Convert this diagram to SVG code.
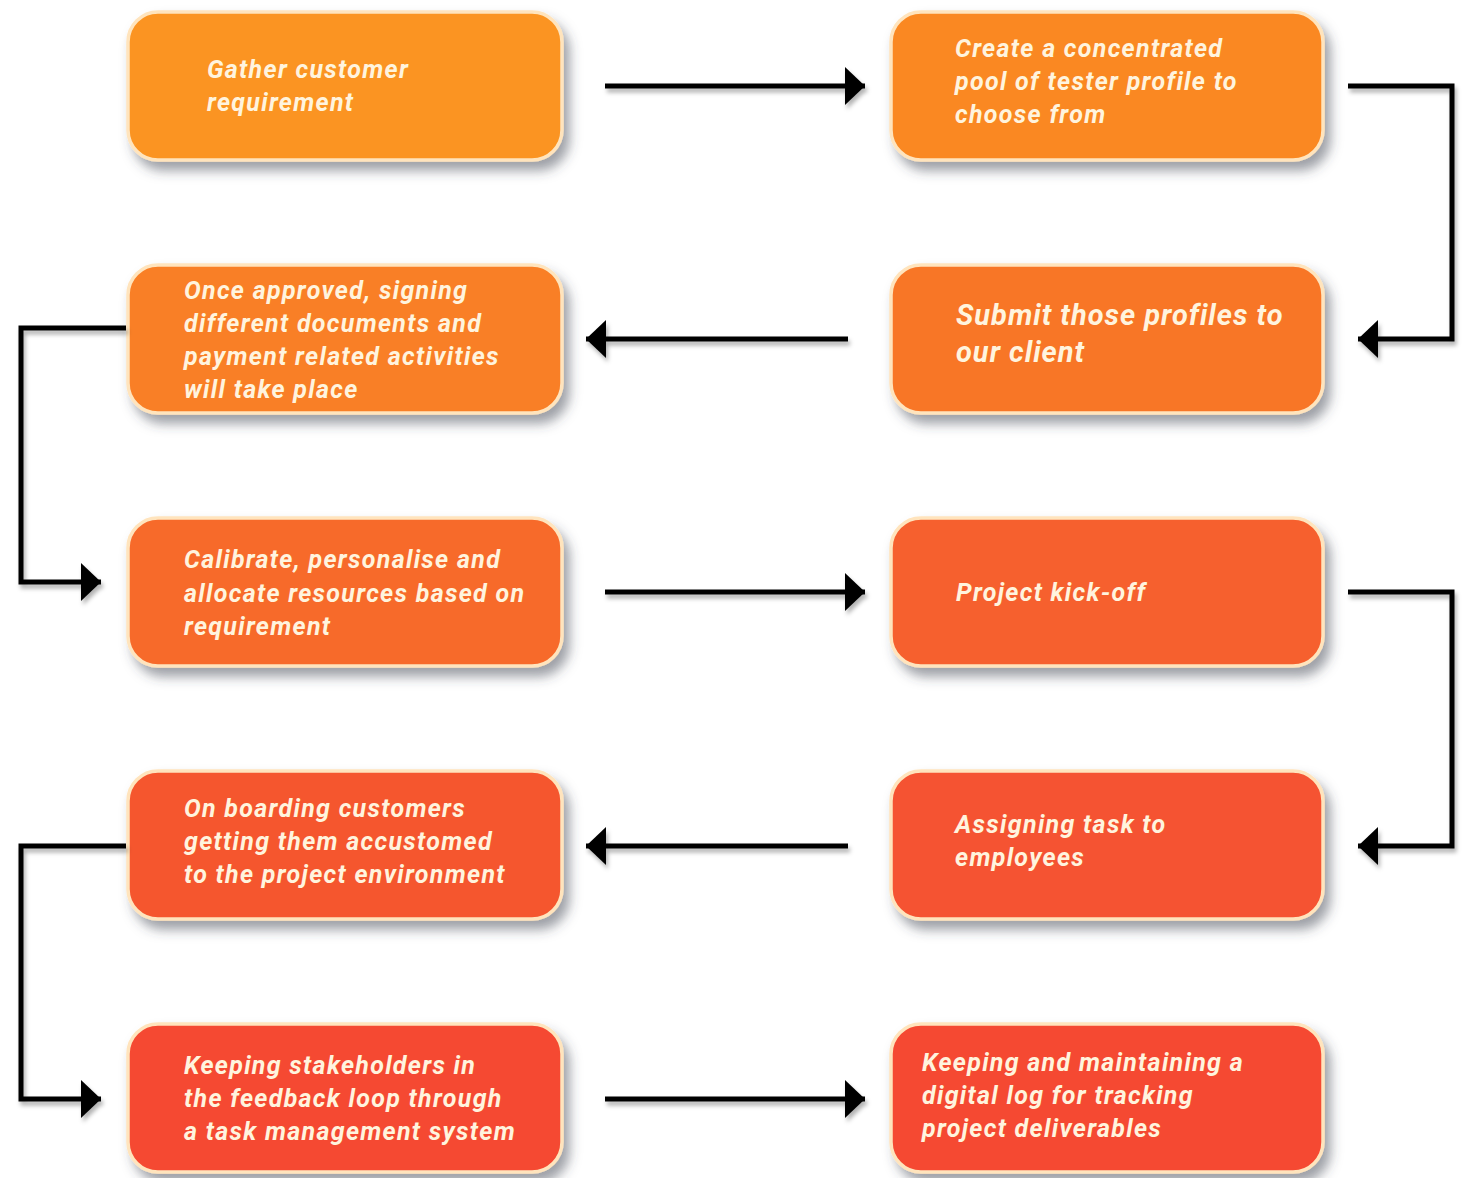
<svg xmlns="http://www.w3.org/2000/svg" width="1468" height="1178" viewBox="0 0 1468 1178">
<defs>
<filter id="sh" x="-10%" y="-20%" width="125%" height="145%">
<feDropShadow dx="6" dy="9" stdDeviation="6" flood-color="#3a4050" flood-opacity="0.5"/>
</filter>
<filter id="ash" x="-10%" y="-50%" width="120%" height="200%">
<feDropShadow dx="2" dy="4" stdDeviation="2" flood-color="#000" flood-opacity="0.3"/>
</filter>
<marker id="ah" viewBox="0 0 20 38" refX="20" refY="19" markerWidth="20" markerHeight="38" markerUnits="userSpaceOnUse" orient="auto">
<path d="M0,0 L20,19 L0,38 Z" fill="#000"/>
</marker>
</defs>
<style>
.box{stroke:#ffe4bd;stroke-width:3.5;filter:url(#sh)}
.t{font-family:Roboto,"Liberation Sans",sans-serif;font-weight:bold;font-style:italic;font-size:25px;letter-spacing:1.3px;fill:#fff4de}
.tb{font-size:29px;letter-spacing:1px}
.c{fill:none;stroke:#000;stroke-width:5;marker-end:url(#ah)}
</style>
<rect width="1468" height="1178" fill="#fff"/>

<g id="n1"><rect class="box" x="128" y="12" width="434" height="148" rx="30" fill="#fb9420"/>
<text class="t" x="207"><tspan x="207" y="78">Gather customer</tspan><tspan x="207" y="111">requirement</tspan></text></g>

<g id="n2"><rect class="box" x="891" y="12" width="432" height="148" rx="30" fill="#fa8822"/>
<text class="t"><tspan x="955" y="57">Create a concentrated</tspan><tspan x="955" y="90">pool of tester profile to</tspan><tspan x="955" y="123">choose from</tspan></text></g>

<g id="n3"><rect class="box" x="891" y="265" width="432" height="148" rx="30" fill="#f87628"/>
<text class="t tb"><tspan x="956" y="325">Submit those profiles to</tspan><tspan x="956" y="362">our client</tspan></text></g>

<g id="n4"><rect class="box" x="128" y="265" width="434" height="148" rx="30" fill="#f97f25"/>
<text class="t"><tspan x="184" y="299">Once approved, signing</tspan><tspan x="184" y="332">different documents and</tspan><tspan x="184" y="365">payment related activities</tspan><tspan x="184" y="398">will take place</tspan></text></g>

<g id="n5"><rect class="box" x="128" y="518" width="434" height="148" rx="30" fill="#f76a2b"/>
<text class="t"><tspan x="184" y="568">Calibrate, personalise  and</tspan><tspan x="184" y="602">allocate resources based on</tspan><tspan x="184" y="635">requirement</tspan></text></g>

<g id="n6"><rect class="box" x="891" y="518" width="432" height="148" rx="30" fill="#f6602e"/>
<text class="t"><tspan x="956" y="601">Project kick-off</tspan></text></g>

<g id="n8"><rect class="box" x="891" y="771" width="432" height="148" rx="30" fill="#f55230"/>
<text class="t"><tspan x="955" y="833">Assigning task to</tspan><tspan x="955" y="866">employees</tspan></text></g>

<g id="n7"><rect class="box" x="128" y="771" width="434" height="148" rx="30" fill="#f5562f"/>
<text class="t"><tspan x="184" y="817">On boarding customers</tspan><tspan x="184" y="850">getting them accustomed</tspan><tspan x="184" y="883">to the project environment</tspan></text></g>

<g id="n9"><rect class="box" x="128" y="1024" width="434" height="148" rx="30" fill="#f54a30"/>
<text class="t"><tspan x="184" y="1074">Keeping stakeholders in</tspan><tspan x="184" y="1107">the feedback loop through</tspan><tspan x="184" y="1140">a task management system</tspan></text></g>

<g id="n10"><rect class="box" x="891" y="1024" width="432" height="148" rx="30" fill="#f54930"/>
<text class="t"><tspan x="922" y="1071">Keeping and maintaining a</tspan><tspan x="922" y="1104">digital log for tracking</tspan><tspan x="922" y="1137">project deliverables</tspan></text></g>

<g id="connectors" filter="url(#ash)">
<path class="c" d="M605,86 H865"/>
<path class="c" d="M1348,86 H1452 V339 H1358"/>
<path class="c" d="M848,339 H586"/>
<path class="c" d="M126,328 H21 V582 H101"/>
<path class="c" d="M605,592 H865"/>
<path class="c" d="M1348,592 H1452 V846 H1358"/>
<path class="c" d="M848,846 H586"/>
<path class="c" d="M126,846 H21 V1099 H101"/>
<path class="c" d="M605,1099 H865"/>
</g>
</svg>
